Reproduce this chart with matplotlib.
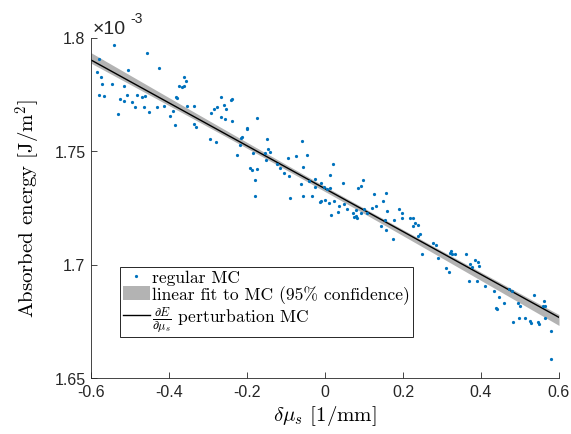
import numpy as np
import matplotlib
matplotlib.use("Agg")
import matplotlib.pyplot as plt
from matplotlib.patches import Patch
from matplotlib.lines import Line2D

# ---------------- data ----------------
# regular MC samples: delta mu_s [1/mm] and absorbed energy [x1e-3 J/m^2]
mc_x = [-0.541, -0.457, -0.579, -0.426, -0.504, -0.585, -0.575, -0.361, -0.356, -0.573,
        -0.547, -0.515, -0.374, -0.367, -0.361, -0.580, -0.567, -0.508, -0.483, -0.468,
        -0.462, -0.382, -0.380, -0.526, -0.515, -0.496, -0.486, -0.464, -0.432, -0.413,
        -0.354, -0.335, -0.266, -0.238, -0.241, -0.259, -0.276, -0.285, -0.254, -0.451,
        -0.391, -0.530, -0.397, -0.293, -0.267, -0.256, -0.238, -0.385, -0.337, -0.331,
        -0.201, -0.199, -0.294, -0.279, -0.215, -0.214, -0.219, -0.225,
        -0.174, -0.149, -0.058, -0.147, -0.141, -0.154, -0.185, -0.151, -0.047, -0.094,
        -0.074, -0.124, -0.115, -0.192, -0.187, -0.174, -0.057, 0.021, -0.104, -0.092,
        -0.179, -0.040, -0.026, 0.012, 0.098, -0.061, -0.010, -0.026, 0.046, -0.002,
        0.006, 0.013, 0.092, 0.085, -0.179, -0.091, -0.057, -0.033, 0.125, 0.156,
        -0.001, -0.013, -0.010, 0.011, 0.024, 0.148, 0.035, 0.049, 0.130, 0.121,
        0.080, 0.099, 0.056, 0.092, 0.034, 0.071, 0.191, 0.158, 0.108, 0.015,
        0.074, 0.079, 0.081,
        0.153, 0.144, 0.178, 0.157, 0.175, 0.197, 0.198, 0.217, 0.226, 0.232,
        0.238, 0.226, 0.244, 0.238, 0.276, 0.285, 0.249, 0.322, 0.321, 0.326,
        0.333, 0.290, 0.362, 0.385, 0.372, 0.377, 0.393, 0.394, 0.310, 0.317,
        0.370, 0.391, 0.411,
        0.434, 0.445, 0.471, 0.480, 0.458, 0.496, 0.501, 0.438, 0.440, 0.535,
        0.562, 0.560, 0.563, 0.483, 0.498, 0.513, 0.526, 0.527, 0.545, 0.548,
        0.565, 0.580, 0.579]
mc_y = [1.7968, 1.7933, 1.7905, 1.7864, 1.7858, 1.7847, 1.7824, 1.7827, 1.7808, 1.7795,
        1.7796, 1.7785, 1.7786, 1.7782, 1.7785, 1.7748, 1.7742, 1.7748, 1.7746, 1.7738,
        1.7743, 1.7738, 1.7733, 1.7730, 1.7719, 1.7717, 1.7695, 1.7692, 1.7692, 1.7698,
        1.7698, 1.7699, 1.7736, 1.7730, 1.7726, 1.7702, 1.7693, 1.7685, 1.7685, 1.7670,
        1.7675, 1.7663, 1.7652, 1.7667, 1.7649, 1.7639, 1.7633, 1.7614, 1.7617, 1.7607,
        1.7596, 1.7601, 1.7555, 1.7539, 1.7557, 1.7561, 1.7527, 1.7483,
        1.7645, 1.7554, 1.7545, 1.7508, 1.7496, 1.7489, 1.7489, 1.7461, 1.7482, 1.7470,
        1.7476, 1.7441, 1.7426, 1.7424, 1.7416, 1.7421, 1.7428, 1.7441, 1.7401, 1.7389,
        1.7373, 1.7370, 1.7375, 1.7394, 1.7372, 1.7355, 1.7357, 1.7341, 1.7360, 1.7341,
        1.7333, 1.7336, 1.7344, 1.7336, 1.7302, 1.7295, 1.7300, 1.7301, 1.7310, 1.7314,
        1.7283, 1.7275, 1.7278, 1.7271, 1.7278, 1.7278, 1.7256, 1.7266, 1.7256, 1.7251,
        1.7239, 1.7244, 1.7245, 1.7229, 1.7230, 1.7226, 1.7244, 1.7236, 1.7227, 1.7216,
        1.7210, 1.7213, 1.7204,
        1.7195, 1.7170, 1.7194, 1.7151, 1.7111, 1.7227, 1.7203, 1.7203, 1.7203, 1.7185,
        1.7174, 1.7170, 1.7133, 1.7125, 1.7094, 1.7086, 1.7047, 1.7058, 1.7051, 1.7047,
        1.7048, 1.7029, 1.7045, 1.7022, 1.7004, 1.6989, 1.7009, 1.6994, 1.6983, 1.6969,
        1.6926, 1.6929, 1.6905,
        1.6885, 1.6859, 1.6892, 1.6883, 1.6830, 1.6830, 1.6815, 1.6807, 1.6803, 1.6866,
        1.6839, 1.6816, 1.6817, 1.6748, 1.6764, 1.6764, 1.6751, 1.6741, 1.6748, 1.6740,
        1.6763, 1.6707, 1.6582]

# perturbation MC derivative line (endpoints, x1e-3 J/m^2)
pert_x = [-0.6, 0.6]
pert_y = [1.7901, 1.6767]

x_ticks = [-0.6, -0.4, -0.2, 0, 0.2, 0.4, 0.6]
x_tick_labels = ["-0.6", "-0.4", "-0.2", "0", "0.2", "0.4", "0.6"]
y_ticks = [1.65, 1.7, 1.75, 1.8]
y_tick_labels = ["1.65", "1.7", "1.75", "1.8"]

labels = ["regular MC", "linear fit to MC (95% confidence)",
          r"$\frac{\partial E}{\partial \mu_s}$ perturbation MC"]

# ---------------- style ----------------
plt.rcParams["mathtext.fontset"] = "cm"
TICKFONT = ["Liberation Sans", "DejaVu Sans"]
SERIF = ["cmr10", "DejaVu Serif"]
AXC = "#262626"
BLUE = "#0072BD"

fig = plt.figure(figsize=(5.71, 4.35), dpi=100)
ax = fig.add_axes([91 / 571, 1 - 379 / 435, 468 / 571, 340.5 / 435])

mx = np.array(mc_x)
my = np.array(mc_y)

# linear fit with 95% confidence band of the mean
p = np.polyfit(mx, my, 1)
n = len(mx)
xf = np.linspace(-0.6, 0.6, 200)
yf = np.polyval(p, xf)
resid = my - np.polyval(p, mx)
s = np.sqrt(np.sum(resid ** 2) / (n - 2))
xm = mx.mean()
sxx = np.sum((mx - xm) ** 2)
half = 1.97 * s * np.sqrt(1.0 / n + (xf - xm) ** 2 / sxx)

ax.fill_between(xf, yf - half, yf + half, color="#b3b3b3", lw=0, zorder=1)
ax.plot(mx, my, ".", color=BLUE, ms=2.6, zorder=3)
ax.plot(pert_x, pert_y, "-", color="black", lw=1.0, zorder=2)

ax.set_xlim(-0.6, 0.6)
ax.set_ylim(1.65, 1.8)
ax.set_xticks(x_ticks)
ax.set_xticklabels(x_tick_labels, fontfamily=TICKFONT, fontsize=11.5, color=AXC)
ax.set_yticks(y_ticks)
ax.set_yticklabels(y_tick_labels, fontfamily=TICKFONT, fontsize=11.5, color=AXC)
ax.tick_params(direction="in", length=4, width=0.6, color=AXC, pad=4)
for sp in ["top", "right"]:
    ax.spines[sp].set_visible(False)
for sp in ["left", "bottom"]:
    ax.spines[sp].set_color(AXC)
    ax.spines[sp].set_linewidth(0.6)

ax.set_xlabel(r"$\delta\mu_s$ [1/mm]", fontfamily=SERIF, fontsize=15, labelpad=3)
ax.set_ylabel(r"Absorbed energy [J/m$^2$]", fontfamily=SERIF, fontsize=15, labelpad=8)

fig.text(93 / 571, 1 - 29 / 435, "×10", fontfamily=TICKFONT, fontsize=14,
         color=AXC, ha="left", va="center")
fig.text(130 / 571, 1 - 19 / 435, "-3", fontfamily=TICKFONT, fontsize=10,
         color=AXC, ha="left", va="center")

handles = [Line2D([], [], ls="none", marker=".", color=BLUE, ms=2.6),
           Patch(facecolor="#b3b3b3", edgecolor="none"),
           Line2D([], [], color="black", lw=1.0)]
leg = ax.legend(handles, labels, loc="lower left", bbox_to_anchor=(0.062, 0.120),
                borderaxespad=0, prop={"family": SERIF, "size": 12.6},
                handlelength=1.55, handleheight=0.85, handletextpad=0.15,
                labelspacing=0.0, borderpad=0.15, fancybox=False, framealpha=1)
leg.get_frame().set_edgecolor(AXC)
leg.get_frame().set_linewidth(0.7)

fig.savefig("out.png", dpi=100)
